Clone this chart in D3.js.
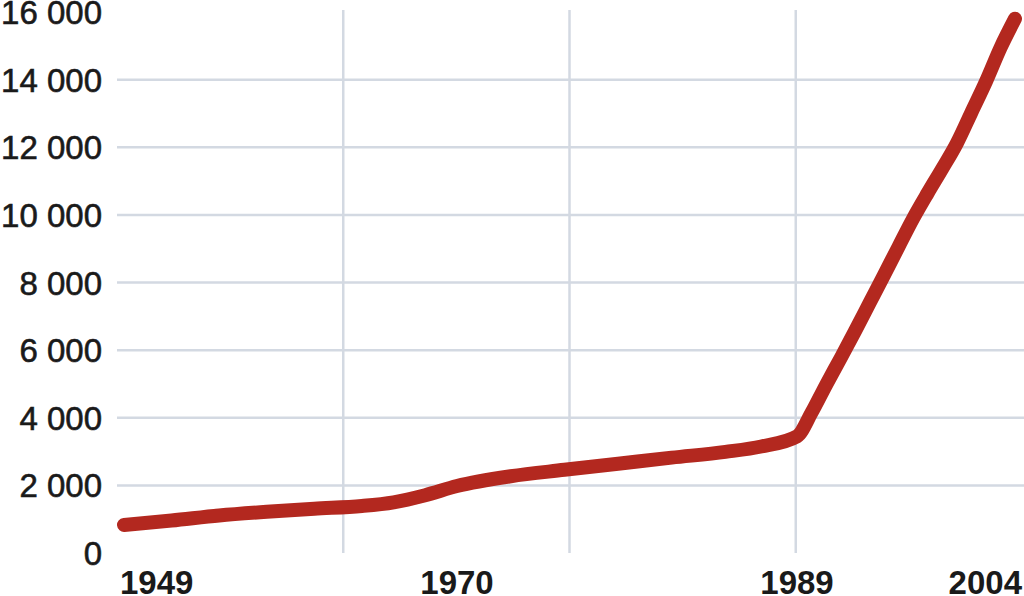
<!DOCTYPE html>
<html>
<head>
<meta charset="utf-8">
<script src="https://cdn.jsdelivr.net/npm/d3@7"></script>
<style>
  html, body { margin: 0; padding: 0; background: #ffffff; }
  svg { display: block; }
</style>
</head>
<body>
<svg id="chart" width="1024" height="596"></svg>
<script>
// ---- data ----
const years  = [1949, 1952, 1955, 1958, 1961, 1964, 1966, 1968, 1970, 1973, 1976, 1979, 1982, 1985, 1987, 1989, 1990, 1991, 1992, 1993, 1994, 1995, 1996, 1997, 1998, 1999, 2000, 2001, 2002, 2003, 2004];
const values = [830, 960, 1110, 1220, 1310, 1390, 1500, 1710, 1980, 2270, 2460, 2640, 2820, 2990, 3150, 3450, 4150, 4970, 5760, 6570, 7400, 8230, 9070, 9900, 10650, 11370, 12120, 13030, 13940, 14940, 15800];
const xTickYears = [1949, 1970, 1989, 2004];
const yTicks = [0, 2000, 4000, 6000, 8000, 10000, 12000, 14000, 16000];
const yGridTicks = [2000, 4000, 6000, 8000, 10000, 12000, 14000];
const xGridFractions = [0.25, 0.5, 0.75];

// ---- layout ----
const svg = d3.select("#chart");
const plotLeft = 117, plotRight = 1022, plotTop = 12, plotBottom = 553;

const y = d3.scaleLinear().domain([0, 16000]).range([plotBottom, plotTop]);
const x = d3.scaleLinear()
  .domain([1949, 1970, 1989, 2004])
  .range([124, 457, 797, 1015]);
const gx = d3.scaleLinear().domain([0, 1]).range([plotLeft, plotRight]);

const gridColor = "#d3d9e2";

// horizontal gridlines
svg.append("g").selectAll("line").data(yGridTicks).join("line")
  .attr("x1", plotLeft).attr("x2", 1024)
  .attr("y1", d => y(d)).attr("y2", d => y(d))
  .attr("stroke", gridColor).attr("stroke-width", 2.5);

// vertical gridlines
svg.append("g").selectAll("line").data(xGridFractions).join("line")
  .attr("x1", d => gx(d)).attr("x2", d => gx(d))
  .attr("y1", 10).attr("y2", plotBottom)
  .attr("stroke", gridColor).attr("stroke-width", 2.5);

// y labels
svg.append("g").selectAll("text").data(yTicks).join("text")
  .attr("x", 102)
  .attr("y", d => y(d) + 12)
  .attr("text-anchor", "end")
  .attr("font-family", "Liberation Sans, Arial, sans-serif")
  .attr("font-size", 33)
  .attr("fill", "#1a1a1a")
  .attr("stroke", "#1a1a1a")
  .attr("stroke-width", 0.6)
  .text(d => d === 0 ? "0" : d3.format(",")(d).replace(",", " "));

// x labels
const anchors = {1949: "start", 1970: "middle", 1989: "middle", 2004: "end"};
const offs = {1949: -4, 1970: 0, 1989: 0, 2004: 7};
svg.append("g").selectAll("text").data(xTickYears).join("text")
  .attr("x", d => x(d) + offs[d])
  .attr("y", 594)
  .attr("text-anchor", d => anchors[d])
  .attr("font-family", "Liberation Sans, Arial, sans-serif")
  .attr("font-size", 33)
  .attr("font-weight", "bold")
  .attr("fill", "#1a1a1a")
  .text(d => d);

// line
const data = years.map((yr, i) => ({year: yr, value: values[i]}));
const line = d3.line()
  .x(d => x(d.year))
  .y(d => y(d.value))
  .curve(d3.curveMonotoneX);

svg.append("path")
  .datum(data)
  .attr("d", line)
  .attr("fill", "none")
  .attr("stroke", "#b3281f")
  .attr("stroke-width", 14)
  .attr("stroke-linecap", "round")
  .attr("stroke-linejoin", "round");
</script>
</body>
</html>
